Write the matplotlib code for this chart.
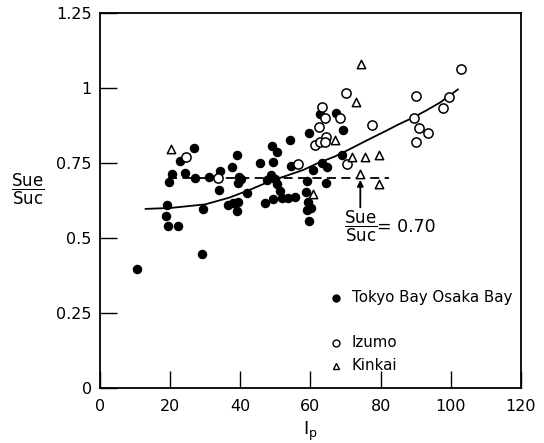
import matplotlib.pyplot as plt

plt.rcParams['font.family'] = 'DejaVu Sans'
plt.rcParams['mathtext.fontset'] = 'dejavusans'

# Tokyo Bay / Osaka Bay (filled)
tokyo_ip = [10.5, 29.0, 19.5, 22.3, 18.7, 19.0, 19.6, 20.6, 22.8, 24.3, 26.9, 27.1, 29.5,
            31.2, 34.2, 34.0, 36.5, 38.0, 37.6, 39.0, 39.5, 39.4, 40.3, 39.2, 39.0, 41.9,
            45.6, 49.4, 49.0, 50.5, 54.3, 54.5, 59.6, 47.5, 48.8, 49.8, 50.5, 51.3,
            46.9, 49.4, 51.8, 53.7, 55.6, 59.0, 58.8, 59.4, 60.2, 59.0, 59.6, 60.6,
            64.4, 63.3, 64.6, 68.9, 62.8, 67.4, 69.4]
tokyo_r = [0.396, 0.447, 0.541, 0.541, 0.573, 0.610, 0.688, 0.713, 0.757, 0.718, 0.799, 0.699, 0.598,
           0.704, 0.724, 0.660, 0.610, 0.617, 0.736, 0.777, 0.704, 0.682, 0.695, 0.621, 0.590, 0.651,
           0.749, 0.752, 0.807, 0.788, 0.827, 0.740, 0.851, 0.693, 0.710, 0.698, 0.680, 0.658,
           0.618, 0.629, 0.632, 0.634, 0.636, 0.690, 0.654, 0.621, 0.599, 0.593, 0.558, 0.726,
           0.682, 0.749, 0.737, 0.777, 0.912, 0.917, 0.861]

# Izumo (open circles)
izumo_ip = [24.5, 33.5, 56.4, 61.2, 62.6, 64.4, 64.0, 62.5, 64.0, 68.3, 63.2, 70.1, 70.4,
            77.6, 89.4, 90.1, 91.0, 93.5, 90.0, 97.7, 99.4, 102.9]
izumo_r = [0.771, 0.699, 0.747, 0.811, 0.820, 0.838, 0.820, 0.870, 0.899, 0.899, 0.936, 0.984, 0.747,
           0.877, 0.899, 0.973, 0.866, 0.849, 0.821, 0.934, 0.971, 1.063]

# Kinkai (triangles)
kinkai_ip = [20.2, 60.8, 67.0, 71.8, 72.9, 74.4, 74.2, 75.4, 79.4, 79.4]
kinkai_r = [0.795, 0.647, 0.828, 0.769, 0.952, 1.080, 0.713, 0.771, 0.777, 0.680]

# trend curve
curve_ip = [13, 20, 30, 37, 43, 48, 53, 58, 62, 67, 71, 76, 81, 85, 89, 93, 97, 102]
curve_r = [0.597, 0.600, 0.612, 0.635, 0.662, 0.687, 0.707, 0.727, 0.749, 0.772, 0.795,
           0.825, 0.854, 0.878, 0.900, 0.925, 0.952, 0.995]

ratio_line = 0.70
ratio_span = [19.5, 82.5]

fig = plt.figure(figsize=(5.44, 4.43), dpi=100)
ax = fig.add_axes([0.1838, 0.1242, 0.7739, 0.8465])

ax.plot(curve_ip, curve_r, '-', color='black', lw=1.3)
ax.plot(ratio_span, [ratio_line, ratio_line], '--', color='black', lw=1.3, dashes=(5, 3))

ax.scatter(tokyo_ip, tokyo_r, s=34, c='black', marker='o', zorder=3)
ax.scatter(izumo_ip, izumo_r, s=44, facecolors='white', edgecolors='black', linewidths=1.1,
           marker='o', zorder=3)
ax.scatter(kinkai_ip, kinkai_r, s=36, facecolors='white', edgecolors='black', linewidths=1.1,
           marker='^', zorder=3)

# arrow + label for the 0.70 line
ax.annotate('', xy=(74.2, ratio_line + 0.003), xytext=(74.2, 0.593),
            arrowprops=dict(arrowstyle='-|>', color='black', lw=1.3, mutation_scale=9))
ax.text(74.2, 0.537, r'$\dfrac{\mathrm{Sue}}{\mathrm{Suc}}$', ha='center', va='center', fontsize=12)
ax.text(79.0, 0.537, '= 0.70', ha='left', va='center', fontsize=12.5)

# legend drawn by hand
leg = [('o', 'black', 'Tokyo Bay Osaka Bay', 0.240),
       ('o', 'white', 'Izumo', 0.120),
       ('^', 'white', 'Kinkai', 0.059)]
for mk, fc, name, yy in leg:
    ax.plot([0.5606], [yy], marker=mk, ms=5, mfc=fc, mec='black', mew=1.0,
            transform=ax.transAxes, clip_on=False)
    ax.text(0.598, yy, name, transform=ax.transAxes, ha='left', va='center', fontsize=10.8)

ax.set_xlim(0, 120)
ax.set_ylim(0, 1.25)
ax.set_xticks([0, 20, 40, 60, 80, 100, 120])
ax.set_yticks([0, 0.25, 0.5, 0.75, 1.0, 1.25])
ax.set_yticklabels(['0', '0.25', '0.5', '0.75', '1', '1.25'])
ax.tick_params(direction='in', length=12, width=1.0, labelsize=11.5)
ax.tick_params(axis='x', pad=8)
ax.tick_params(axis='y', pad=6)
for s in ax.spines.values():
    s.set_linewidth(1.3)

fig.text(0.05, 0.573, r'$\dfrac{\mathrm{Sue}}{\mathrm{Suc}}$', ha='center', va='center', fontsize=12)
ax.set_xlabel(r'I$_\mathrm{p}$', fontsize=13, labelpad=4)

fig.savefig('out.png', dpi=100)
